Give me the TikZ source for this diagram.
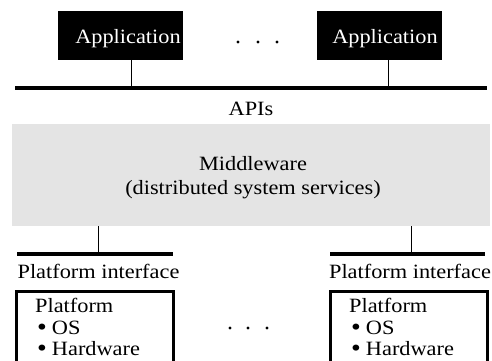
\documentclass[tikz,border=0pt]{standalone}
\usepackage{fontspec}
\setmainfont{Liberation Serif}[FakeStretch=1.1]
\definecolor{mwgray}{RGB}{228,228,228}
\newcommand{\mybul}{\raisebox{-1.3pt}{\scalebox{1.25}{\textbullet}}\hspace{5pt}}
\begin{document}
\begin{tikzpicture}[x=1pt,y=-1pt,
  txt/.style={font=\fontsize{20.3}{23}\selectfont,inner sep=0pt},
  apptxt/.style={txt,text=white,anchor=base},
  appbox/.style={fill=black,minimum width=125pt,minimum height=49pt,inner sep=0pt},
  bar/.style={line width=4pt},
  link/.style={line width=1pt},
  platbox/.style={draw,line width=3pt,minimum width=157pt,minimum height=90pt,inner sep=0pt,anchor=north west},
  plattxt/.style={txt,anchor=base west},
  dot/.style={circle,fill=black,inner sep=0pt,minimum size=3.4pt}]
\useasboundingbox (0,0) rectangle (492,360);
\clip (0,0) rectangle (492,360);
% applications
\node[appbox] (app1) at (120.5,35.5) {};
\node[appbox] (app2) at (379,35.5) {};
\node[apptxt] (app1t) at (128,43) {Application};
\node[apptxt] (app2t) at (385,43) {Application};
\node[dot] (d1) at (238,42) {};
\node[dot] (d2) at (258,42) {};
\node[dot] (d3) at (277,42) {};
% API bar
\coordinate (apiL) at (15,88);
\coordinate (apiR) at (487,88);
\draw[bar] (apiL) -- (apiR);
\coordinate (a1) at (131,88);
\coordinate (a2) at (388,88);
\draw[link] (app1.south -| a1) -- (a1);
\draw[link] (app2.south -| a2) -- (a2);
\node[txt,anchor=base] (apis) at (251,115) {APIs};
% middleware
\node[fill=mwgray,minimum width=478pt,minimum height=102pt,inner sep=0pt] (mw) at (251,175) {};
\node[txt,anchor=base] (mwt1) at (253,170) {Middleware};
\node[txt,anchor=base] (mwt2) at (253,194) {(distributed system services)};
% platform bars
\coordinate (p1) at (98,254);
\coordinate (p2) at (411,254);
\draw[link] (mw.south -| p1) -- (p1);
\draw[link] (mw.south -| p2) -- (p2);
\coordinate (b1L) at (17,254); \coordinate (b1R) at (173,254);
\coordinate (b2L) at (330,254); \coordinate (b2R) at (485,254);
\draw[bar] (b1L) -- (b1R);
\draw[bar] (b2L) -- (b2R);
\node[txt,anchor=base] (pi1) at (98.5,278) {Platform interface};
\node[txt,anchor=base] (pi2) at (410,278) {Platform interface};
% platforms
\node[platbox] (plat1) at (14.5,289.5) {};
\node[platbox] (plat2) at (328.5,289.5) {};
\node[plattxt] (pt1a) at (35,312) {Platform};
\node[plattxt] (pt1b) at (37,334) {\mybul OS};
\node[plattxt] (pt1c) at (37,355.5) {\mybul Hardware};
\node[plattxt] (pt2a) at (349,312) {Platform};
\node[plattxt] (pt2b) at (351,334) {\mybul OS};
\node[plattxt] (pt2c) at (351,355.5) {\mybul Hardware};
\node[dot] (e1) at (230,328) {};
\node[dot] (e2) at (248,328) {};
\node[dot] (e3) at (267,328) {};
\end{tikzpicture}
\end{document}
